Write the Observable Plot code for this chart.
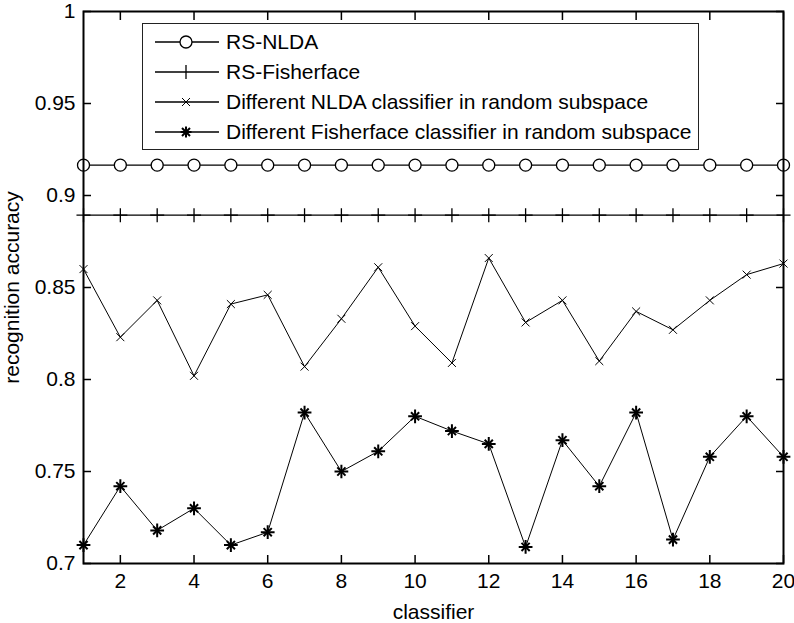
<!DOCTYPE html>
<html><head><meta charset="utf-8">
<script src="https://cdn.jsdelivr.net/npm/d3@7"></script>
<script src="https://cdn.jsdelivr.net/npm/@observablehq/plot@0.6"></script>
<style>
body{margin:0;background:#fff;}
#wrap{position:relative;width:794px;height:623px;font-family:"Liberation Sans",Arial,sans-serif;color:#000;}
#wrap svg [aria-label$="label"] text, #wrap svg g[aria-label$="label"]{font-size:21px;}
#legend{position:absolute;left:142px;top:23px;width:557px;height:127px;box-sizing:border-box;border:1.5px solid #222;background:#fff;}
.row{position:absolute;left:0;height:24px;width:100%;}
.row svg{position:absolute;left:10px;top:0;}
.row span{position:absolute;left:83px;top:0;line-height:24px;font-size:21px;white-space:nowrap;}
</style></head>
<body><div id="wrap"></div>
<script>
const classifiers = [1,2,3,4,5,6,7,8,9,10,11,12,13,14,15,16,17,18,19,20];
const rsNlda = [0.9165,0.9165,0.9165,0.9165,0.9165,0.9165,0.9165,0.9165,0.9165,0.9165,0.9165,0.9165,0.9165,0.9165,0.9165,0.9165,0.9165,0.9165,0.9165,0.9165];
const rsFisherface = [0.8893,0.8893,0.8893,0.8893,0.8893,0.8893,0.8893,0.8893,0.8893,0.8893,0.8893,0.8893,0.8893,0.8893,0.8893,0.8893,0.8893,0.8893,0.8893,0.8893];
const nldaRandom = [0.860,0.823,0.843,0.802,0.841,0.846,0.807,0.833,0.861,0.829,0.809,0.866,0.831,0.843,0.810,0.837,0.827,0.843,0.857,0.863];
const fisherRandom = [0.710,0.742,0.718,0.730,0.710,0.717,0.782,0.750,0.761,0.780,0.772,0.765,0.709,0.767,0.742,0.782,0.713,0.758,0.780,0.758];
const xTicks = [2,4,6,8,10,12,14,16,18,20];
const yTicks = [0.7,0.75,0.8,0.85,0.9,0.95,1];
const yTickLabels = ["0.7","0.75","0.8","0.85","0.9","0.95","1"];
const seriesNames = ["RS-NLDA","RS-Fisherface","Different NLDA classifier in random subspace","Different Fisherface classifier in random subspace"];

const rows = ys => classifiers.map((c, i) => ({classifier: c, accuracy: ys[i]}));
const dNlda = rows(rsNlda), dFisher = rows(rsFisherface), dNR = rows(nldaRandom), dFR = rows(fisherRandom);
const enc = {x: "classifier", y: "accuracy"};

const chart = Plot.plot({
  width: 794, height: 623,
  marginLeft: 83, marginRight: 11, marginTop: 11, marginBottom: 60,
  style: {fontFamily: '"Liberation Sans", Arial, sans-serif', fontSize: "20px", color: "#000", background: "#fff", overflow: "visible"},
  x: {domain: [1, 20]},
  y: {domain: [0.7, 1]},
  marks: [
    Plot.line(dNlda, {...enc, stroke: "#000", strokeWidth: 1.3}),
    Plot.dot(dNlda, {...enc, symbol: "circle", r: 6, fill: "#fff", stroke: "#000", strokeWidth: 1.3}),
    Plot.line(dFisher, {...enc, stroke: "#000", strokeWidth: 1.3}),
    Plot.dot(dFisher, {...enc, symbol: "plus", r: 4.6, stroke: "#000", strokeWidth: 1.3}),
    Plot.line(dNR, {...enc, stroke: "#000", strokeWidth: 1}),
    Plot.dot(dNR, {...enc, symbol: "times", r: 3.7, stroke: "#000", strokeWidth: 1}),
    Plot.line(dFR, {...enc, stroke: "#000", strokeWidth: 1}),
    Plot.dot(dFR, {...enc, symbol: "plus", r: 4.5, stroke: "#000", strokeWidth: 2}),
    Plot.dot(dFR, {...enc, symbol: "times", r: 3.8, stroke: "#000", strokeWidth: 2}),
    Plot.frame({stroke: "#000", strokeWidth: 2}),
    Plot.axisX({anchor: "bottom", ticks: xTicks, tickSize: -8, tickPadding: 18, tickFormat: d => String(d), label: null, strokeWidth: 1.5}),
    Plot.axisX({anchor: "bottom", ticks: [], label: "classifier", labelAnchor: "center", labelOffset: 55, labelArrow: "none", fontSize: 21}),
    Plot.axisX({anchor: "top", ticks: xTicks, tickSize: -8, tickFormat: () => "", label: null, strokeWidth: 1.5}),
    Plot.axisY({anchor: "left", ticks: yTicks, tickSize: -8, tickPadding: 16, tickFormat: d => yTickLabels[yTicks.indexOf(d)], label: null, strokeWidth: 1.5}),
    Plot.axisY({anchor: "left", ticks: [], label: "recognition accuracy", labelAnchor: "center", labelOffset: 79, labelArrow: "none", fontSize: 21}),
    Plot.axisY({anchor: "right", ticks: yTicks, tickSize: -8, tickFormat: () => "", label: null, strokeWidth: 1.5})
  ]
});
const wrap = document.getElementById("wrap");
wrap.appendChild(chart);

// legend
const legend = document.createElement("div");
legend.id = "legend";
const markerSvg = [
  '<circle cx="33" cy="12" r="6" fill="#fff" stroke="#000" stroke-width="1.3"/>',
  '<path d="M33,5V19" stroke="#000" stroke-width="1.3"/>',
  '<path d="M29,8L37,16M29,16L37,8" stroke="#000" stroke-width="1"/>',
  '<path d="M33,6.5V17.5M27.5,12H38.5M29,8L37,16M29,16L37,8" stroke="#000" stroke-width="2"/>'
];
seriesNames.forEach((name, i) => {
  const r = document.createElement("div");
  r.className = "row";
  r.style.top = (6 + i * 29.9) + "px";
  r.innerHTML = `<svg width="70" height="24"><line x1="2" y1="12" x2="66" y2="12" stroke="#000" stroke-width="1.3"/>${markerSvg[i]}</svg><span>${name}</span>`;
  legend.appendChild(r);
});
wrap.appendChild(legend);
</script>
</body></html>
